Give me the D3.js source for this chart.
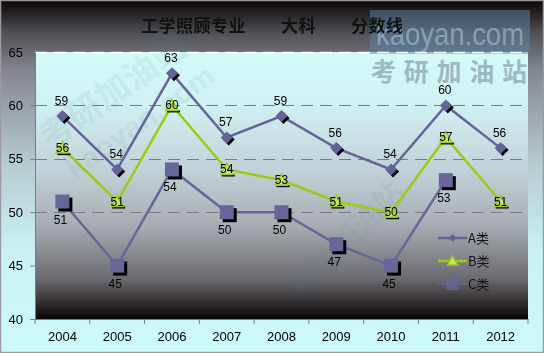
<!DOCTYPE html>
<html>
<head>
<meta charset="utf-8">
<script src="https://cdn.jsdelivr.net/npm/d3@7"></script>
<style>
html,body{margin:0;padding:0;background:#fff;}
svg{display:block;}
</style>
</head>
<body>
<script>
const years = ["2004","2005","2006","2007","2008","2009","2010","2011","2012"];
const seriesA = [59,54,63,57,59,56,54,60,56];
const seriesB = [56,51,60,54,53,51,50,57,51];
const seriesC = [51,45,54,50,50,47,45,53,null];
const yTicks = [40,45,50,55,60,65];
const seriesNames = ["A类","B类","C类"];
const title = "工学照顾专业　　大科　　分数线";

const W = 544, H = 353;
const margin = {left:35, right:16, top:52, bottom:34};
const svg = d3.select("body").append("svg").attr("width",W).attr("height",H);
const defs = svg.append("defs");

const og = defs.append("linearGradient").attr("id","outer").attr("x1",0).attr("y1",0).attr("x2",0).attr("y2",1);
[[0,"#0c0606"],[0.1,"#55555c"],[0.2,"#85868e"],[0.45,"#b4c8cc"],[0.7,"#c8f0f2"],[1,"#ccfafa"]].forEach(s=>og.append("stop").attr("offset",s[0]).attr("stop-color",s[1]));
const pg = defs.append("linearGradient").attr("id","plot").attr("x1",0).attr("y1",0).attr("x2",0).attr("y2",1);
[[0,"#d4fafa"],[0.2,"#d0f0f2"],[0.45,"#c0d0d6"],[0.65,"#a8acb2"],[0.85,"#6a6a70"],[1,"#0c0404"]].forEach(s=>pg.append("stop").attr("offset",s[0]).attr("stop-color",s[1]));

svg.append("rect").attr("x",0.5).attr("y",0.5).attr("width",W-1).attr("height",H-1)
  .attr("fill","url(#outer)").attr("stroke","#9a9aa0").attr("stroke-width",1.5);

const x0 = margin.left, x1 = W - margin.right, y0 = H - margin.bottom, y1 = margin.top;
const x = d3.scaleBand().domain(years).range([x0,x1]);
const y = d3.scaleLinear().domain([40,65]).range([y0,y1]);
const cx = d => x(d) + x.bandwidth()/2;

svg.append("rect").attr("x",x0).attr("y",y1).attr("width",x1-x0).attr("height",y0-y1).attr("fill","url(#plot)");

// watermarks
const wm = svg.append("g").attr("pointer-events","none");
wm.append("rect").attr("x",370).attr("y",10).attr("width",160).attr("height",44).attr("fill","#5d85a8").attr("opacity",0.5);
wm.append("text").attr("x",376).attr("y",45)
  .attr("font-family","Liberation Sans, Arial, sans-serif").attr("font-size",31)
  .attr("textLength",148).attr("lengthAdjust","spacingAndGlyphs")
  .attr("fill","#8aa6bc").attr("opacity",0.9).text("kaoyan.com");
wm.append("text").attr("x",371).attr("y",81)
  .attr("font-family","Noto Sans CJK SC").attr("font-size",25).attr("font-weight","bold")
  .attr("textLength",156).attr("lengthAdjust","spacing")
  .attr("fill","#8aa4b0").attr("opacity",0.75).text("考研加油站");
const diag = wm.append("g").attr("opacity",0.1).attr("fill","#4a8aa0")
  .attr("font-family","Noto Sans CJK SC").attr("font-weight","bold");
diag.append("text").attr("transform","translate(50,150) rotate(-35)").attr("font-size",34).text("考研加油站");
diag.append("text").attr("transform","translate(75,180) rotate(-35)").attr("font-size",30).attr("font-family","Liberation Sans").text("kaoyan.com");
diag.append("text").attr("transform","translate(300,300) rotate(-45)").attr("font-size",30).text("考研加油站");

// gridlines
svg.append("g").selectAll("line").data(yTicks.filter(t=>t>40&&t<65)).join("line")
  .attr("x1",x0).attr("x2",x1).attr("y1",d=>Math.round(y(d))+0.5).attr("y2",d=>Math.round(y(d))+0.5)
  .attr("stroke","#7a7a80").attr("stroke-width",1).attr("stroke-dasharray","12,7");
svg.append("line").attr("x1",x0).attr("x2",x1).attr("y1",y1+0.5).attr("y2",y1+0.5)
  .attr("stroke","#ffffff").attr("stroke-width",1.5).attr("stroke-dasharray","12,7");

// axes
const yAxis = svg.append("g").attr("transform",`translate(${x0},0)`)
  .call(d3.axisLeft(y).tickValues(yTicks).tickSize(5).tickSizeOuter(0));
yAxis.select(".domain").attr("stroke","#7a7a80");
yAxis.selectAll(".tick line").attr("stroke","#7a7a80");
yAxis.selectAll("text").attr("font-family","Liberation Sans, Arial, sans-serif").attr("font-size",13).attr("fill","#000").attr("dx",-4);

const xAxis = svg.append("g").attr("transform",`translate(0,${y0})`)
  .call(d3.axisBottom(x).tickSize(0));
xAxis.select(".domain").attr("stroke","#7a7a80");
xAxis.selectAll("text").attr("font-family","Liberation Sans, Arial, sans-serif").attr("font-size",13).attr("fill","#000").attr("dy","1.45em");
svg.append("g").selectAll("line").data(d3.range(years.length+1)).join("line")
  .attr("x1",i=>x0+i*x.step()).attr("x2",i=>x0+i*x.step()).attr("y1",y0).attr("y2",y0+5)
  .attr("stroke","#7a7a80");

// title
svg.append("text").attr("x",272).attr("y",32).attr("text-anchor","middle")
  .attr("font-family","Noto Sans CJK SC").attr("font-weight","bold").attr("font-size",17)
  .attr("textLength",262).attr("lengthAdjust","spacing").attr("fill","#111").text(title);

const colA = "#64649a", colB = "#99cc11", colC = "#666699";
const line = d3.line().defined(d=>d.v!=null).x(d=>cx(d.k)).y(d=>y(d.v));
const mk = arr => years.map((k,i)=>({k, v:arr[i]}));
const dA = mk(seriesA), dB = mk(seriesB), dC = mk(seriesC).filter(d=>d.v!=null);

svg.append("path").datum(dC).attr("d",line).attr("fill","none").attr("stroke",colC).attr("stroke-width",2.5);
svg.append("path").datum(dA).attr("d",line).attr("fill","none").attr("stroke",colA).attr("stroke-width",2.5);
svg.append("path").datum(dB).attr("d",line).attr("fill","none").attr("stroke",colB).attr("stroke-width",2.5);

const diamond = (g,px,py,s)=>{
  g.append("path").attr("d",`M${px+2},${py+2-s}L${px+2+s},${py+2}L${px+2},${py+2+s}L${px+2-s},${py+2}Z`).attr("fill","#000");
  g.append("path").attr("d",`M${px},${py-s}L${px+s},${py}L${px},${py+s}L${px-s},${py}Z`).attr("fill",colA);
};
const square = (g,px,py,s)=>{
  g.append("rect").attr("x",px-s+3).attr("y",py-s+3).attr("width",2*s).attr("height",2*s).attr("fill","#000");
  g.append("rect").attr("x",px-s).attr("y",py-s).attr("width",2*s).attr("height",2*s).attr("fill",colC);
};
const tri = (g,px,py,s)=>{
  g.append("rect").attr("x",px-s+1).attr("y",py+s-1).attr("width",2*s+1).attr("height",2).attr("fill","#000");
  g.append("path").attr("d",`M${px},${py-s}L${px+s},${py+s-1}L${px-s},${py+s-1}Z`).attr("fill","#c8e07a").attr("stroke",colB).attr("stroke-width",1.5);
};

const labFont = "Liberation Sans, Arial, sans-serif";
const gC = svg.append("g");
dC.forEach(d=>{ square(gC,cx(d.k),y(d.v),7); });
gC.selectAll("text").data(dC).join("text").attr("x",d=>cx(d.k)-2).attr("y",d=>y(d.v)+22)
  .attr("text-anchor","middle").attr("font-family",labFont).attr("font-size",12).text(d=>d.v);

const gA = svg.append("g");
dA.forEach(d=>{ diamond(gA,cx(d.k),y(d.v),6); });
gA.selectAll("text").data(dA).join("text").attr("x",d=>cx(d.k)-1).attr("y",d=>y(d.v)-11)
  .attr("text-anchor","middle").attr("font-family",labFont).attr("font-size",12).text(d=>d.v);

const gB = svg.append("g");
dB.forEach(d=>{ tri(gB,cx(d.k),y(d.v),6); });
gB.selectAll("text").data(dB).join("text").attr("x",d=>cx(d.k)).attr("y",d=>y(d.v)+4)
  .attr("text-anchor","middle").attr("font-family",labFont).attr("font-size",12).text(d=>d.v);

// legend
const lg = svg.append("g");
const lx0 = 438, lx1 = 467, ly = [238,261,284];
const cols = [colA,colB,colC];
seriesNames.forEach((n,i)=>{
  lg.append("line").attr("x1",lx0).attr("x2",lx1).attr("y1",ly[i]).attr("y2",ly[i]).attr("stroke",cols[i]).attr("stroke-width",2.5).attr("opacity",i==2?0.7:1);
  const mx = (lx0+lx1)/2;
  if(i==0) lg.append("path").attr("d",`M${mx},${ly[i]-4}L${mx+4},${ly[i]}L${mx},${ly[i]+4}L${mx-4},${ly[i]}Z`).attr("fill",colA);
  if(i==1) lg.append("path").attr("d",`M${mx},${ly[i]-5}L${mx+5},${ly[i]+4}L${mx-5},${ly[i]+4}Z`).attr("fill","#c8e07a").attr("stroke",colB).attr("stroke-width",1.5);
  if(i==2) lg.append("rect").attr("x",mx-6).attr("y",ly[i]-6).attr("width",12).attr("height",12).attr("fill",colC).attr("opacity",0.8);
  lg.append("text").attr("x",lx1+1).attr("y",ly[i]+5).attr("font-family","Noto Sans CJK SC").attr("font-size",13).attr("fill","#111").text(n);
});
</script>
</body>
</html>
